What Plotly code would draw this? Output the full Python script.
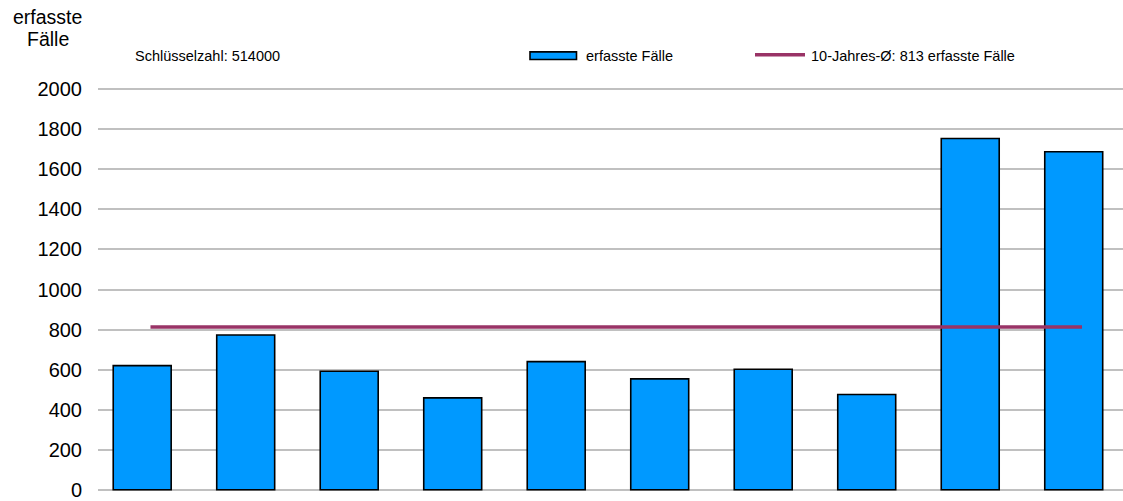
import numpy as np
import plotly.graph_objects as go

# Erfasste Fälle je Jahr (zehn Jahre) und 10-Jahres-Durchschnitt
jahre = list(range(10))
faelle = [620, 773, 592, 459, 640, 554, 602, 476, 1754, 1688]
durchschnitt = 813
y_ticks = [0, 200, 400, 600, 800, 1000, 1200, 1400, 1600, 1800, 2000]

schluesselzahl_text = "Schlüsselzahl: 514000"
name_balken = "erfasste Fälle"
name_linie = f"10-Jahres-Ø: {durchschnitt} erfasste Fälle"

FONT = "Liberation Sans, Arial, sans-serif"
BAR_COLOR = "#0099FF"
LINE_COLOR = "#993366"
GRID_COLOR = "#C0C0C0"

W, H = 1123, 501
M_L, M_R, M_T, M_B = 98, 0, 88, 8
PW = W - M_L - M_R
PH = H - M_T - M_B


def px_x(px):
    return (px - M_L) / PW


def px_y(py):
    return (H - M_B - py) / PH


fig = go.Figure()

fig.add_trace(go.Bar(
    x=jahre,
    y=faelle,
    name=name_balken,
    width=0.56,
    marker=dict(color=BAR_COLOR, line=dict(color="#000000", width=1.6)),
    showlegend=False,
))

# Durchschnittslinie über alle zehn Jahre
fig.add_trace(go.Scatter(
    x=np.array(jahre) + 0.08,
    y=[durchschnitt] * len(jahre),
    name=name_linie,
    mode="lines",
    line=dict(color=LINE_COLOR, width=3.5),
    showlegend=False,
))

fig.update_xaxes(
    range=[-0.427, 9.476],
    showticklabels=False,
    showgrid=False,
    zeroline=False,
    showline=False,
    ticks="",
)
fig.update_yaxes(
    range=[-6, 2006],
    tickvals=y_ticks,
    ticktext=[str(v) for v in y_ticks],
    showgrid=True,
    gridcolor=GRID_COLOR,
    gridwidth=1.5,
    zeroline=False,
    showline=False,
    ticks="",
    ticklabelstandoff=15,
    ticklabeloverflow="allow",
    tickfont=dict(family=FONT, size=20, color="#000000"),
)

# Legende als Symbole und Texte
shapes = [
    dict(type="rect", xref="paper", yref="paper",
         x0=px_x(530), x1=px_x(576.5), y0=px_y(59.3), y1=px_y(51.7),
         fillcolor=BAR_COLOR, line=dict(color="#000000", width=1.6)),
    dict(type="line", xref="paper", yref="paper",
         x0=px_x(755), x1=px_x(805), y0=px_y(54.5), y1=px_y(54.5),
         line=dict(color=LINE_COLOR, width=3.5)),
]

annotations = [
    dict(text="erfasste", xref="paper", yref="paper",
         x=px_x(47), y=px_y(17), xanchor="center", yanchor="middle",
         showarrow=False, font=dict(family=FONT, size=19.5, color="#000000")),
    dict(text="Fälle", xref="paper", yref="paper",
         x=px_x(48), y=px_y(39), xanchor="center", yanchor="middle",
         showarrow=False, font=dict(family=FONT, size=19.5, color="#000000")),
    dict(text=schluesselzahl_text, xref="paper", yref="paper",
         x=px_x(133), y=px_y(55.5), xanchor="left", yanchor="middle",
         showarrow=False, font=dict(family=FONT, size=14.5, color="#000000")),
    dict(text=name_balken, xref="paper", yref="paper",
         x=px_x(584), y=px_y(55.5), xanchor="left", yanchor="middle",
         showarrow=False, font=dict(family=FONT, size=14.5, color="#000000")),
    dict(text=name_linie, xref="paper", yref="paper",
         x=px_x(809), y=px_y(55.5), xanchor="left", yanchor="middle",
         showarrow=False, font=dict(family=FONT, size=14.5, color="#000000")),
]

fig.update_layout(
    width=W,
    height=H,
    margin=dict(l=M_L, r=M_R, t=M_T, b=M_B, pad=0),
    paper_bgcolor="#FFFFFF",
    plot_bgcolor="#FFFFFF",
    font=dict(family=FONT, color="#000000"),
    shapes=shapes,
    annotations=annotations,
    showlegend=False,
    bargap=0.44,
)

fig.write_html("out.html")
